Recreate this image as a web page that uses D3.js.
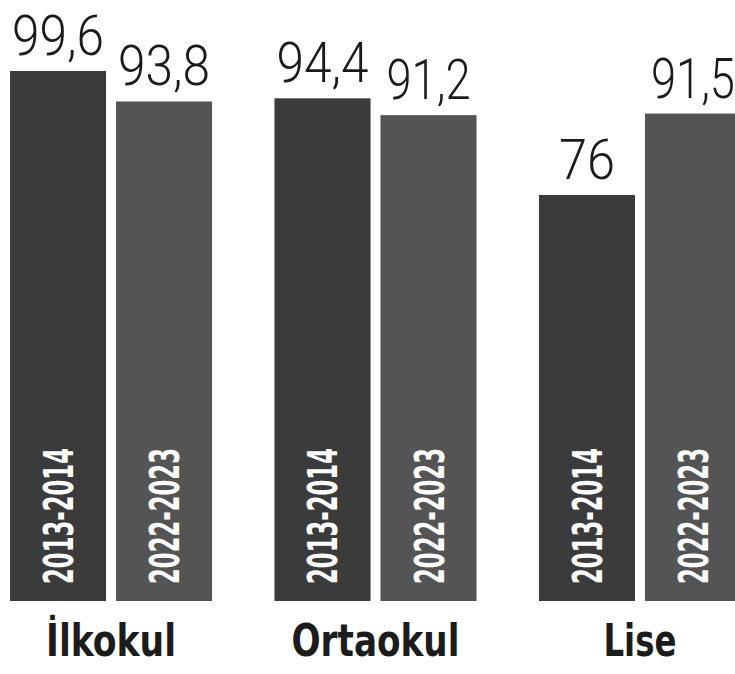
<!DOCTYPE html>
<html>
<head>
<meta charset="utf-8">
<script src="https://cdn.jsdelivr.net/npm/d3@7"></script>
<style>
  body { margin: 0; background: #fff; }
</style>
</head>
<body>
<div class="canvas"></div>
<script>
const categories = ['İlkokul', 'Ortaokul', 'Lise'];
const years = ['2013-2014', '2022-2023'];
const values2013 = [99.6, 94.4, 76];
const values2022 = [93.8, 91.2, 91.5];

const width = 735;
const height = 674;
const barBottom = 601;

const data = [];
categories.forEach((c, i) => {
	data.push({ cat: c, year: years[0], value: values2013[i] });
	data.push({ cat: c, year: years[1], value: values2022[i] });
});

const svg = d3.select('.canvas')
	.append('svg')
	.attr('width', width)
	.attr('height', height);

const x0 = d3.scaleBand()
	.domain(categories)
	.range([10, 741])
	.paddingInner(0.236)
	.paddingOuter(0);

const x1 = d3.scaleBand()
	.domain(years)
	.range([0, x0.bandwidth()])
	.paddingInner(0.094)
	.paddingOuter(0);

const y = d3.scaleLinear()
	.domain([0, 100])
	.range([594.3, 68.9]);

const colour = d3.scaleOrdinal()
	.domain(years)
	.range(['#3b3b3b', '#545454']);

const fmt = v => String(v).replace('.', ',');

const bars = svg.selectAll('g.bar')
	.data(data)
	.enter()
	.append('g')
	.attr('class', 'bar')
	.attr('transform', d => `translate(${x0(d.cat) + x1(d.year)},0)`);

bars.append('rect')
	.attr('x', 0)
	.attr('y', d => y(d.value))
	.attr('width', x1.bandwidth())
	.attr('height', d => barBottom - y(d.value))
	.attr('fill', d => colour(d.year));

// value labels above bars
bars.append('text')
	.attr('x', x1.bandwidth() / 2)
	.attr('y', d => y(d.value) - 16)
	.attr('text-anchor', 'middle')
	.attr('font-family', 'Roboto, sans-serif')
	.attr('font-weight', 300)
	.attr('font-size', 56)
	.attr('fill', '#1a1a1a')
	.attr('textLength', d => fmt(d.value).length === 2 ? 56 : (fmt(d.value).startsWith('91') ? 84 : 92))
	.attr('lengthAdjust', 'spacingAndGlyphs')
	.text(d => fmt(d.value));

// year labels inside bars, rotated
bars.append('text')
	.attr('transform', `translate(${x1.bandwidth() / 2 + 15},584) rotate(-90)`)
	.attr('font-family', '"Liberation Sans Narrow", "DejaVu Sans Condensed", sans-serif')
	.attr('font-weight', 'bold')
	.attr('font-size', 41)
	.attr('fill', '#fff')
	.attr('textLength', 136)
	.attr('lengthAdjust', 'spacingAndGlyphs')
	.text(d => d.year);

// category labels
svg.selectAll('text.cat')
	.data(categories)
	.enter()
	.append('text')
	.attr('class', 'cat')
	.attr('x', d => x0(d) + x0.bandwidth() / 2)
	.attr('y', 656)
	.attr('text-anchor', 'middle')
	.attr('font-family', '"Liberation Sans Narrow", "DejaVu Sans Condensed", sans-serif')
	.attr('font-weight', 'bold')
	.attr('font-size', 44)
	.attr('fill', '#1c1c1c')
	.attr('textLength', d => d === 'Lise' ? 73 : (d === 'İlkokul' ? 130 : 168))
	.attr('lengthAdjust', 'spacingAndGlyphs')
	.text(d => d);
</script>
</body>
</html>
